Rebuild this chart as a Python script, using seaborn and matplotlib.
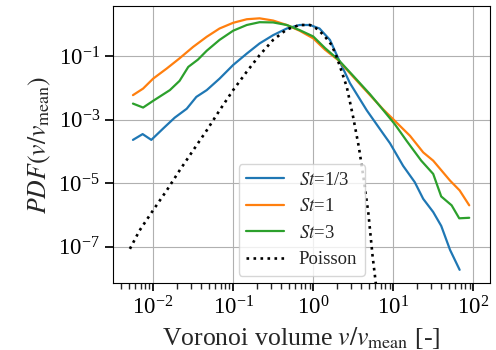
import pandas as pd
import matplotlib
matplotlib.use("Agg")
import matplotlib.pyplot as plt
import seaborn as sns

# values (v / v_mean, PDF)
v_st13 = [0.0056, 0.0074, 0.0095, 0.0133, 0.0186, 0.0263, 0.0347, 0.0468, 0.0676, 0.1,
          0.148, 0.214, 0.316, 0.468, 0.676, 0.912, 1.20, 1.62, 2.04, 2.88,
          4.68, 7.50, 9.12, 13.3, 18.6, 23.7, 31.6, 39.8, 51.3, 67.6]
pdf_st13 = [2.3e-4, 3.5e-4, 2.3e-4, 5.2e-4, 1.15e-3, 2.2e-3, 5.2e-3, 8.5e-3, 0.0195, 0.0525,
            0.120, 0.251, 0.457, 0.741, 0.955, 0.955, 0.741, 0.324, 0.089, 0.0141,
            1.95e-3, 3.6e-4, 1.8e-4, 3.5e-5, 1.07e-5, 3.2e-6, 1.23e-6, 4.5e-7, 7.9e-8, 1.86e-8]

v_st1 = [0.0056, 0.0075, 0.01, 0.0148, 0.0214, 0.0316, 0.0468, 0.0676, 0.1, 0.148,
         0.214, 0.316, 0.468, 0.676, 1.0, 1.41, 2.04, 3.16, 5.13, 7.50,
         10.5, 16.2, 23.7, 31.6, 51.3, 67.6, 89.1]
pdf_st1 = [5.9e-3, 9.5e-3, 0.0195, 0.0407, 0.0851, 0.195, 0.407, 0.741, 1.12, 1.45,
           1.55, 1.32, 0.955, 0.631, 0.363, 0.158, 0.0759, 0.0224, 5.9e-3, 2.1e-3,
           9.1e-4, 3.1e-4, 9.3e-5, 5.1e-5, 1.2e-5, 5.9e-6, 2.0e-6]

v_st3 = [0.0056, 0.0075, 0.01, 0.0162, 0.0214, 0.0275, 0.0363, 0.0468, 0.0676, 0.1,
         0.148, 0.214, 0.316, 0.468, 0.676, 1.0, 1.41, 2.04, 3.16, 5.13,
         7.50, 10.5, 14.8, 22.4, 31.6, 39.8, 53.7, 66.8, 89.1]
pdf_st3 = [3.2e-3, 2.4e-3, 3.9e-3, 8.5e-3, 0.0166, 0.0457, 0.0776, 0.148, 0.324, 0.631,
           0.955, 1.17, 1.15, 0.955, 0.661, 0.417, 0.178, 0.0794, 0.024, 6.3e-3,
           2.0e-3, 7.1e-4, 2.1e-4, 5.1e-5, 1.95e-5, 3.8e-6, 2.0e-6, 7.8e-7, 8.1e-7]

v_poisson = [0.00513, 0.00676, 0.01, 0.0148, 0.0214, 0.0316, 0.0468, 0.0676, 0.1, 0.148,
             0.214, 0.316, 0.468, 0.676, 0.912, 1.15, 1.41, 1.70, 1.95, 2.24,
             2.63, 3.16, 3.72, 4.27, 4.90, 5.50, 6.03, 6.61]
pdf_poisson = [8.5e-8, 3.2e-7, 1.4e-6, 5.9e-6, 2.5e-5, 1.07e-4, 4.6e-4, 1.95e-3, 8.5e-3, 0.0324,
               0.107, 0.324, 0.692, 0.955, 0.955, 0.692, 0.407, 0.224, 0.1, 0.0363,
               0.0107, 1.2e-3, 1.38e-4, 1.4e-5, 1.1e-6, 5.6e-8, 7.9e-9, 6.3e-10]

labels = ["$St$=1/3", "$St$=1", "$St$=3"]
colors = sns.color_palette("tab10", 3)

sns.set_theme(style="ticks")
plt.rcParams["font.family"] = ["Liberation Serif", "DejaVu Serif"]
plt.rcParams["mathtext.fontset"] = "stix"

fig = plt.figure(figsize=(4.96, 3.5), dpi=100)
ax = fig.add_axes([0.228, 0.191, 0.76, 0.792])

for v, p, lab, c in zip([v_st13, v_st1, v_st3], [pdf_st13, pdf_st1, pdf_st3], labels, colors):
    df = pd.DataFrame({"v": v, "pdf": p})
    sns.lineplot(data=df, x="v", y="pdf", ax=ax, color=c, linewidth=1.6, label=lab)

df_p = pd.DataFrame({"v": v_poisson, "pdf": pdf_poisson})
sns.lineplot(data=df_p, x="v", y="pdf", ax=ax, color="black", linestyle=":",
             linewidth=1.9, label="Poisson")

ax.set_xscale("log")
ax.set_yscale("log")
ax.set_xlim(10 ** -2.5, 10 ** 2.21)
ax.set_ylim(10 ** -8.15, 10 ** 0.58)
ax.set_yticks([1e-7, 1e-5, 1e-3, 1e-1])
ax.yaxis.set_minor_locator(matplotlib.ticker.NullLocator())
ax.grid(True, which="major", color="#b0b0b0", linewidth=0.8)
ax.tick_params(labelsize=16.5, colors="black")
ax.set_xlabel(r"Voronoi volume $v/v_\mathrm{mean}$ [-]", fontsize=18.5)
ax.set_ylabel(r"$PDF(v/v_\mathrm{mean})$", fontsize=18.5)
for s in ax.spines.values():
    s.set_color("black")
    s.set_linewidth(0.8)

ax.legend(loc="lower center", fontsize=13.5, frameon=True, framealpha=0.8,
          edgecolor="#cccccc", fancybox=True, borderaxespad=0.4)

fig.savefig("out.png", dpi=100)
